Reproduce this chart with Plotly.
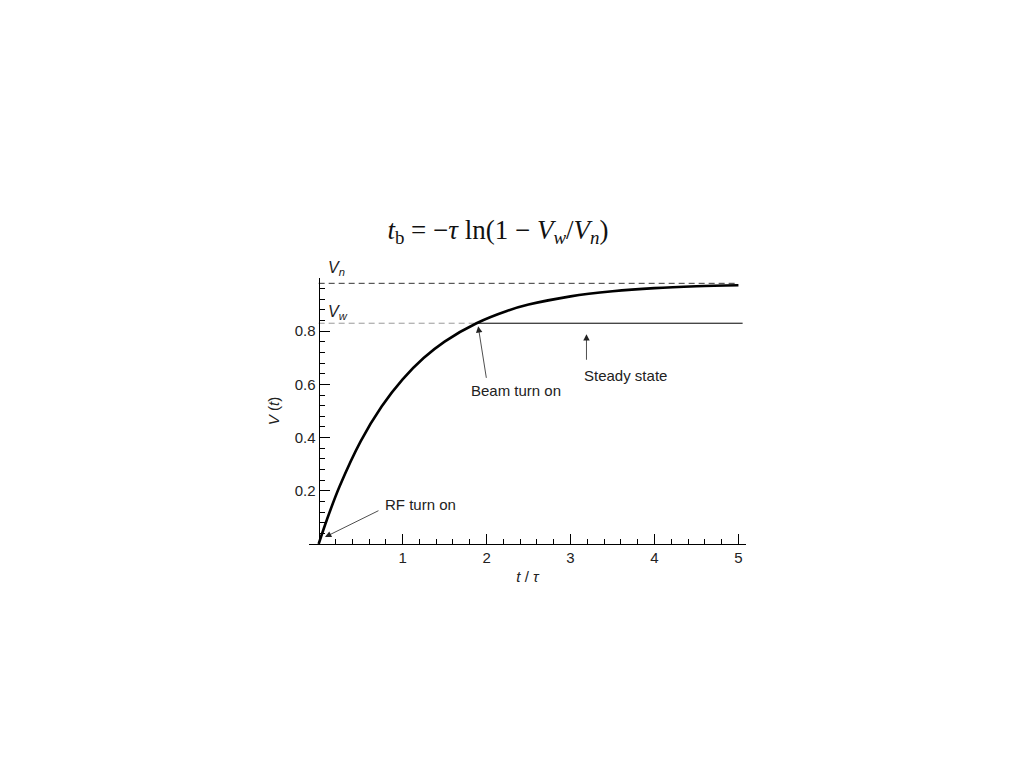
import plotly.graph_objects as go

# values
t_curve = [0, 0.1, 0.25, 0.5, 0.75, 1.0, 1.25, 1.5, 1.88, 2.25, 2.5, 3.0, 3.5, 4.0, 4.5, 5.0]
v_curve = [0, 0.093, 0.217, 0.386, 0.517, 0.619, 0.699, 0.761, 0.830, 0.877, 0.900, 0.931, 0.950, 0.962, 0.969, 0.973]
vn_level = 0.98
vw_level = 0.83
t_beam = 1.88
t_end = 5.0
x_ticks = [1, 2, 3, 4, 5]
y_ticks = [0.2, 0.4, 0.6, 0.8]

x_range = [-0.115, 5.09]
y_range = [0, 1.0]

fig = go.Figure()

# V_n asymptote
fig.add_trace(go.Scatter(x=[0, t_end], y=[vn_level, vn_level], mode='lines',
                         line=dict(color='#333333', width=1, dash='6px,4px')))
# V_w up to beam turn on
fig.add_trace(go.Scatter(x=[0, t_beam], y=[vw_level, vw_level], mode='lines',
                         line=dict(color='#999999', width=1, dash='6px,4px')))
# steady state
fig.add_trace(go.Scatter(x=[t_beam, t_end + 0.05], y=[vw_level, vw_level], mode='lines',
                         line=dict(color='black', width=1)))
# charging curve
fig.add_trace(go.Scatter(x=t_curve, y=v_curve, mode='lines', line_shape='spline',
                         line=dict(color='black', width=2.6)))

font = dict(family='Liberation Sans, Arial, sans-serif', size=15, color='#222222')

# arrows
arrows = [
    (0.075, 0.026, 0.73, 0.128),
    (1.90, 0.819, 2.00, 0.619),
    (3.19, 0.789, 3.19, 0.687),
]
for x, y, ax, ay in arrows:
    fig.add_annotation(x=x, y=y, ax=ax, ay=ay, xref='x', yref='y', axref='x', ayref='y',
                       text='', showarrow=True, arrowhead=2, arrowsize=1.6, arrowwidth=0.8,
                       arrowcolor='#222222')

fig.add_annotation(x=0.77, y=0.150, text='RF turn on', showarrow=False, xanchor='left',
                   yanchor='middle', font=font)
fig.add_annotation(x=2.35, y=0.577, text='Beam turn on', showarrow=False, xanchor='center',
                   yanchor='middle', font=font)
fig.add_annotation(x=3.14, y=0.634, text='Steady state', showarrow=False, xanchor='left',
                   yanchor='middle', font=font)
fig.add_annotation(x=0.09, y=1.035, yref='paper', text='<i>V<sub>n</sub></i>', showarrow=False,
                   xanchor='left', yanchor='middle',
                   font=dict(family='Liberation Sans, Arial', size=16, color='#222222'))
fig.add_annotation(x=0.09, y=0.87, text='<i>V<sub>w</sub></i>', showarrow=False, xanchor='left',
                   yanchor='middle', font=dict(family='Liberation Sans, Arial', size=16, color='#222222'))

fig.update_layout(
    width=1024, height=768,
    margin=dict(l=301, r=286, t=270, b=232),
    paper_bgcolor='white', plot_bgcolor='white',
    showlegend=False,
    font=font,
    title=dict(
        text='<i>t</i><sub>b</sub> = −<i>τ</i> ln(1 − <i>V<sub>w</sub></i>/<i>V<sub>n</sub></i>)',
        x=0.4785, y=0.712, xanchor='center', yanchor='middle',
        font=dict(family='Liberation Serif, Times New Roman, serif', size=27, color='#111111')),
    xaxis=dict(
        range=x_range, showgrid=False, zeroline=False,
        showline=True, linecolor='black', linewidth=1,
        tickmode='array', tickvals=x_ticks, ticktext=[str(v) for v in x_ticks],
        ticks='inside', ticklen=10, tickwidth=1, tickcolor='black',
        minor=dict(tickmode='array', tickvals=[i * 0.2 for i in range(1, 26) if i % 5 != 0],
                   ticks='inside', ticklen=5, tickwidth=1, tickcolor='black'),
        title=dict(text='<i>t</i> / <i>τ</i>', standoff=6, font=dict(size=15)),
        fixedrange=True,
    ),
    yaxis=dict(
        range=y_range, showgrid=False, zeroline=False,
        anchor='free', position=(0 - x_range[0]) / (x_range[1] - x_range[0]),
        showline=True, linecolor='black', linewidth=1,
        tickmode='array', tickvals=y_ticks, ticktext=['0.2', '0.4', '0.6', '0.8'],
        ticks='inside', ticklen=10, tickwidth=1, tickcolor='black',
        minor=dict(tickmode='array', tickvals=[round(i * 0.04, 2) for i in range(1, 25) if i % 5 != 0],
                   ticks='inside', ticklen=5, tickwidth=1, tickcolor='black'),
        title=dict(text='<i>V</i> (<i>t</i>)', standoff=10, font=dict(size=15)),
        fixedrange=True,
    ),
)

fig.write_html("out.html")
